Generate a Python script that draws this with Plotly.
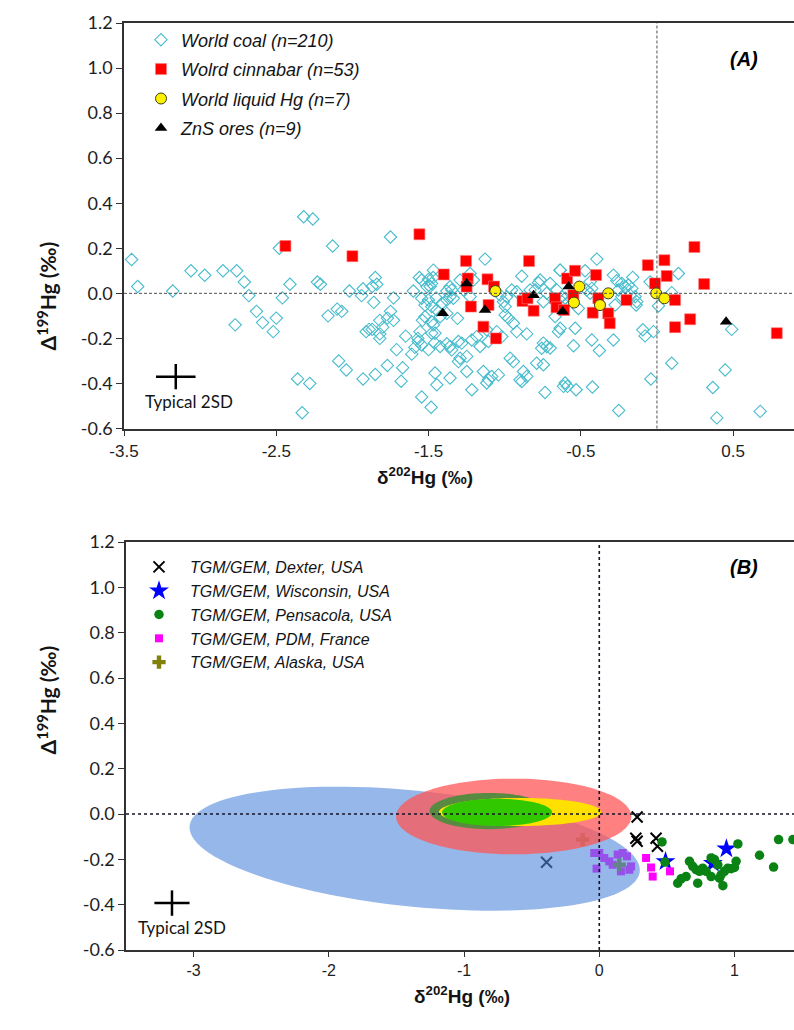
import numpy as np
import plotly.graph_objects as go

# ---------------- Panel A data ----------------
coal_x = [-3.45,-3.41,-3.18,-3.06,-2.97,-2.85,-2.76,-2.71,-2.68,-2.77,-2.63,-2.59,-2.50,-2.52,-2.46,-2.41,-2.48,-2.32,-2.26,-2.13,
          -2.23,-2.21,-2.16,-2.10,-2.07,-2.02,-1.94,-1.91,-1.89,-1.93,-1.87,-1.85,-1.84,-1.86,-1.82,-1.80,-1.77,-1.75,-1.73,-1.73,
          -1.75,-1.71,-1.65,-1.61,-1.59,-1.57,-1.60,-1.56,-1.77,-1.67,-1.68,-1.85,-1.93,-2.09,-2.04,-2.36,-2.28,-2.33,-1.82,-1.87,
          -1.82,-1.50,-1.47,-1.49,-1.45,-1.46,-1.38,-1.54,
          -1.545,-1.483,-1.567,-1.556,-1.545,-1.545,-1.468,-1.50,-1.48,-1.51,-1.545,-1.523,-1.479,-1.446,-1.501,-1.413,-1.38,-1.359,
          -1.337,-1.348,-1.359,-1.31,-1.293,-1.227,-1.205,-1.271,-1.227,-1.468,-1.479,-1.38,-1.348,-1.304,-1.424,-1.293,-1.249,-1.249,
          -1.359,-1.457,-1.446,-1.216,-1.129,-1.14,-1.107,-1.041,-1.118,-1.216,-1.183,-1.118,-1.107,-1.052,-1.019,-0.997,-1.008,-0.986,
          -1.03,-0.954,-0.997,-0.943,-0.921,-0.855,-0.888,-0.778,-0.833,-0.80,-0.702,-0.746,-0.964,-0.877,-0.899,-0.79,-0.746,-0.746,
          -0.702,-0.647,-0.636,-0.735,-0.614,-0.658,-0.625,-0.669,-1.162,-1.282,-1.304,-1.359,-1.457,-0.943,-0.855,-0.888,-0.724,-0.757,
          -0.767,-0.724,-0.975,-0.921,-1.085,-1.523,-1.424,-1.38,-1.479,
          -0.395,-0.472,-0.286,-0.159,-0.264,-0.231,-0.209,-0.187,-0.165,-0.253,-0.143,-0.137,-0.275,-0.439,-0.428,-0.461,-0.603,-0.592,
          -0.516,-0.636,-0.537,-0.548,-0.428,-0.378,-0.286,-0.093,-0.078,-0.023,-0.045,0.097,0.141,0.010,0.097,-0.040,0.448,0.367,
          0.393,0.491,-0.251,-0.603,-0.588,-0.531,-0.424,0.678,-0.636,-0.176,-0.132,-0.231,-0.625,-0.439]
coal_y = [0.15,0.03,0.01,0.10,0.08,0.10,0.10,0.05,-0.01,-0.14,-0.08,-0.13,-0.11,-0.17,-0.02,0.04,0.20,0.34,0.33,0.21,
          0.05,0.04,-0.10,-0.07,-0.08,0.01,-0.01,-0.17,-0.16,0.02,0.03,0.07,0.04,-0.04,-0.18,-0.15,-0.11,-0.08,-0.12,-0.02,
          0.25,-0.25,-0.19,-0.27,-0.24,-0.20,0.01,0.07,-0.32,-0.33,-0.39,-0.36,-0.38,-0.30,-0.34,-0.38,-0.40,-0.53,-0.12,-0.16,
          -0.20,-0.25,0.07,0.03,-0.02,-0.22,0.01,-0.12,
          -0.46,-0.506,-0.214,-0.17,-0.229,0.059,0.103,0.062,0.044,0.029,-0.022,-0.052,-0.059,-0.074,-0.03,-0.045,-0.03,-0.015,
          -0.022,0.015,0.029,-0.111,0.059,0.088,0.059,0.015,-0.015,-0.14,-0.177,-0.224,-0.251,-0.214,-0.236,-0.288,-0.28,-0.347,
          -0.376,-0.354,-0.406,-0.428,0.152,-0.347,-0.384,-0.362,-0.398,-0.207,-0.192,-0.162,-0.214,-0.17,-0.192,-0.059,-0.037,-0.015,
          -0.008,0.015,-0.096,-0.133,-0.17,-0.18,0.076,0.047,0.015,0.015,0.044,-0.037,-0.288,-0.347,-0.384,-0.31,-0.317,-0.221,
          -0.243,-0.17,0.103,-0.44,-0.413,0.015,-0.015,-0.103,-0.236,-0.221,-0.303,-0.236,-0.177,-0.303,-0.369,-0.391,-0.236,-0.244,
          0.059,0.0,-0.111,0.007,-0.369,-0.104,-0.104,-0.089,-0.126,
          0.152,0.10,0.081,0.071,0.056,0.044,0.029,0.037,0.022,0.015,-0.015,-0.052,-0.052,0.051,0.022,0.015,-0.022,-0.044,
          -0.067,-0.155,-0.155,-0.233,-0.207,-0.254,-0.207,-0.162,-0.189,-0.17,0.051,0.003,0.088,-0.056,-0.31,-0.38,-0.34,-0.418,
          -0.553,-0.16,-0.52,-0.398,-0.413,-0.428,-0.416,-0.524,0.103,-0.008,-0.037,-0.015,-0.037,0.0]

cinnabar_x = [-2.44,-2.00,-1.56,-1.40,-1.254,-1.243,-1.25,-1.113,-1.07,-1.222,-1.106,-1.14,-1.057,-0.84,-0.883,-0.85,-0.81,
              -0.67,-0.66,-0.61,-0.59,-0.538,-0.549,-0.40,-0.385,-0.422,-0.32,-0.31,-0.20,-0.06,0.049,0.064,-0.013,0.119,
              0.246,0.31,0.218,0.119,0.787]
cinnabar_y = [0.21,0.165,0.262,0.084,0.144,0.066,0.03,0.062,0.03,-0.059,-0.052,-0.148,-0.20,0.143,-0.034,-0.022,-0.077,
              -0.022,-0.062,-0.074,0.066,0.10,-0.008,0.081,-0.022,-0.086,-0.089,-0.133,-0.03,0.125,0.147,0.077,0.044,-0.03,
              0.206,0.041,-0.115,-0.15,-0.177]

liquid_x = [-0.51,-0.545,-0.32,-0.374,-0.005,0.049,-1.061]
liquid_y = [0.03,-0.041,0.0,-0.052,0.0,-0.022,0.01]

zns_x = [-1.25,-1.407,-1.129,-0.81,-0.62,-0.58,0.454]
zns_y = [0.044,-0.088,-0.074,-0.008,-0.081,0.03,-0.126]

a_xtick_vals = [-3.5,-2.5,-1.5,-0.5,0.5]
a_xtick_text = ["-3.5","-2.5","-1.5","-0.5","0.5"]
y_tick_vals = [-0.6,-0.4,-0.2,0.0,0.2,0.4,0.6,0.8,1.0,1.2]
y_tick_text = ["-0.6","-0.4","-0.2","0.0","0.2","0.4","0.6","0.8","1.0","1.2"]

# ---------------- Panel B data ----------------
dexter_x = [0.28,0.27,0.28,0.42,0.43,-0.39]
dexter_y = [-0.013,-0.107,-0.12,-0.107,-0.142,-0.213]

wisc_x = [0.94,0.49,0.84]
wisc_y = [-0.153,-0.21,-0.217]

pens_x = [0.464,1.025,1.326,1.432,1.185,1.289,0.667,0.691,0.716,0.741,0.765,0.790,0.827,0.852,0.877,0.901,0.926,0.951,
          0.975,1.0,1.012,0.827,0.889,0.914,0.580,0.605,0.642,0.728,0.486]
pens_y = [-0.123,-0.132,-0.113,-0.113,-0.182,-0.234,-0.209,-0.231,-0.246,-0.253,-0.239,-0.253,-0.194,-0.201,-0.224,-0.268,
          -0.253,-0.239,-0.241,-0.236,-0.209,-0.276,-0.283,-0.316,-0.305,-0.286,-0.276,-0.305,-0.212]

pdm_x = [0.346,0.383,0.395,0.523,-0.037,0.0,0.037,0.074,0.099,0.136,0.173,0.205,0.160,0.222,0.235,-0.02]
pdm_y = [-0.194,-0.236,-0.276,-0.253,-0.172,-0.172,-0.194,-0.209,-0.224,-0.179,-0.172,-0.187,-0.253,-0.246,-0.231,-0.241]

alaska_x = [-0.123,0.148]
alaska_y = [-0.113,-0.224]

b_xtick_vals = [-3,-2,-1,0,1]
b_xtick_text = ["-3","-2","-1","0","1"]

# ellipses: blue (coal), red (cinnabar), dark green, yellow, green
ell_cx = [-1.365,-0.633,-0.815,-0.585,-0.756]
ell_cy = [-0.153,-0.011,0.013,0.009,0.007]
ell_rx = [1.665,0.870,0.44,0.60,0.407]
ell_ry = [0.257,0.167,0.08,0.062,0.06]
ell_shear = [-0.0565,0.0,0.0,0.0,0.0]
ell_fill = ["rgba(80,135,220,0.6)","rgba(255,85,85,0.75)","rgb(88,138,66)","rgb(255,224,0)","rgb(50,200,0)"]

sd_x = [-3.16]; sd_ya = [-0.37]; sd_yb = [-0.393]
sd_ex = 0.13; sd_ey = 0.056

# ---------------- Figure ----------------
fig = go.Figure()
LA = dict(legend="legend")
LB = dict(legend="legend2")

fig.add_trace(go.Scatter(x=coal_x, y=coal_y, mode="markers", name="World coal (n=210)",
    marker=dict(symbol="diamond-open", size=9.5, color="rgb(70,188,205)", line=dict(width=1.1)),
    xaxis="x", yaxis="y", legendgroup="a1", **LA))
fig.add_trace(go.Scatter(x=cinnabar_x, y=cinnabar_y, mode="markers", name="Wolrd cinnabar (n=53)",
    marker=dict(symbol="square", size=11, color="rgb(255,0,0)", line=dict(width=0.6, color="rgb(255,120,120)")),
    xaxis="x", yaxis="y", legendgroup="a2", **LA))
fig.add_trace(go.Scatter(x=liquid_x, y=liquid_y, mode="markers", name="World liquid Hg (n=7)",
    marker=dict(symbol="circle", size=11, color="rgb(255,240,0)", line=dict(width=1, color="rgb(60,60,30)")),
    xaxis="x", yaxis="y", legendgroup="a3", **LA))
fig.add_trace(go.Scatter(x=zns_x, y=zns_y, mode="markers", name="ZnS ores (n=9)",
    marker=dict(symbol="triangle-up", size=11, color="black"),
    xaxis="x", yaxis="y", legendgroup="a4", **LA))
fig.add_trace(go.Scatter(x=sd_x, y=sd_ya, mode="markers", showlegend=False,
    marker=dict(size=1, color="black"),
    error_x=dict(type="constant", value=sd_ex, width=0, thickness=2.5, color="black"),
    error_y=dict(type="constant", value=sd_ey, width=0, thickness=2.5, color="black"),
    xaxis="x", yaxis="y"))

fig.add_trace(go.Scatter(x=dexter_x, y=dexter_y, mode="markers", name="TGM/GEM, Dexter, USA",
    marker=dict(symbol="x-thin-open", size=11, color="black", line=dict(width=2, color="black")),
    xaxis="x2", yaxis="y2", legendgroup="b1", **LB))
fig.add_trace(go.Scatter(x=wisc_x, y=wisc_y, mode="markers", name="TGM/GEM, Wisconsin, USA",
    marker=dict(symbol="star", size=15, color="rgb(0,0,255)"),
    xaxis="x2", yaxis="y2", legendgroup="b2", **LB))
fig.add_trace(go.Scatter(x=pens_x, y=pens_y, mode="markers", name="TGM/GEM, Pensacola, USA",
    marker=dict(symbol="circle", size=9.5, color="rgb(10,130,20)"),
    xaxis="x2", yaxis="y2", legendgroup="b3", **LB))
fig.add_trace(go.Scatter(x=pdm_x, y=pdm_y, mode="markers", name="TGM/GEM, PDM, France",
    marker=dict(symbol="square", size=8, color="rgb(255,0,255)"),
    xaxis="x2", yaxis="y2", legendgroup="b4", **LB))
fig.add_trace(go.Scatter(x=alaska_x, y=alaska_y, mode="markers", name="TGM/GEM, Alaska, USA",
    marker=dict(symbol="cross", size=11, color="rgb(128,128,10)"),
    xaxis="x2", yaxis="y2", legendgroup="b5", **LB))
fig.add_trace(go.Scatter(x=sd_x, y=sd_yb, mode="markers", showlegend=False,
    marker=dict(size=1, color="black"),
    error_x=dict(type="constant", value=sd_ex, width=0, thickness=2.5, color="black"),
    error_y=dict(type="constant", value=sd_ey, width=0, thickness=2.5, color="black"),
    xaxis="x2", yaxis="y2"))

shapes = []
t = np.linspace(0, 2*np.pi, 121)
for cx, cy, rx, ry, sh, fc in zip(ell_cx, ell_cy, ell_rx, ell_ry, ell_shear, ell_fill):
    ex = cx + rx*np.cos(t)
    ey = cy + ry*np.sin(t) + sh*rx*np.cos(t)
    path = "M " + " L ".join(f"{a:.4f},{b:.4f}" for a, b in zip(ex, ey)) + " Z"
    shapes.append(dict(type="path", path=path, xref="x2", yref="y2", fillcolor=fc,
                       line=dict(width=0), layer="above"))

# reference lines
shapes += [
    dict(type="line", xref="x domain", yref="y", x0=0, x1=1, y0=0, y1=0,
         line=dict(color="rgb(80,80,80)", width=1, dash="3px,2px"), layer="above"),
    dict(type="line", xref="x", yref="y domain", x0=0, x1=0, y0=0, y1=1,
         line=dict(color="rgb(80,80,80)", width=1, dash="3px,2px"), layer="above"),
    dict(type="line", xref="x2 domain", yref="y2", x0=0, x1=1, y0=0, y1=0,
         line=dict(color="rgb(20,20,40)", width=1.6, dash="dot"), layer="above"),
    dict(type="line", xref="x2", yref="y2 domain", x0=0, x1=0, y0=0, y1=1,
         line=dict(color="rgb(20,20,40)", width=1.6, dash="dot"), layer="above"),
]

axis_common = dict(showline=True, linecolor="rgb(50,50,50)", linewidth=1.5, ticks="outside",
                   ticklen=6, tickwidth=1.3, tickcolor="rgb(50,50,50)", showgrid=False, zeroline=False)
yfont = dict(family="Lato, Open Sans, sans-serif", size=18, color="rgb(30,30,30)")

H = 927.0
def py(p):
    return (950 - p) / H
def px(p):
    return (p - 124) / 670.0

fig.update_layout(
    width=794, height=1030, margin=dict(l=124, r=0, t=23, b=80),
    paper_bgcolor="white", plot_bgcolor="white",
    xaxis=dict(domain=[0, 1], range=[-3.5, 0.90], tickvals=a_xtick_vals, ticktext=a_xtick_text,
               mirror=True, anchor="y",
               tickfont=dict(family="Liberation Sans Narrow, Liberation Sans, sans-serif", size=17, color="rgb(30,30,30)"),
               **axis_common),
    yaxis=dict(domain=[py(428.5), 1], range=[-0.6, 1.2], tickvals=y_tick_vals, ticktext=y_tick_text,
               anchor="x", tickfont=yfont, **axis_common),
    xaxis2=dict(domain=[2/670, 1], range=[-3.5, 1.44], tickvals=b_xtick_vals, ticktext=b_xtick_text,
                mirror=True, anchor="y2", ticklen=5,
                tickfont=dict(family="Liberation Sans, Arial, sans-serif", size=16, color="rgb(30,30,30)"),
                **{k: v for k, v in axis_common.items() if k != "ticklen"}),
    yaxis2=dict(domain=[0, py(542)], range=[-0.6, 1.2], tickvals=y_tick_vals, ticktext=y_tick_text,
                anchor="x2", tickfont=yfont, **axis_common),
    shapes=shapes,
    showlegend=True,
    legend=dict(x=px(141), y=py(21.5), xanchor="left", yanchor="top", bgcolor="rgba(0,0,0,0)",
                traceorder="grouped", tracegroupgap=3, itemwidth=30,
                font=dict(family="Liberation Sans, Arial, sans-serif", size=18, style="italic", color="rgb(20,20,20)")),
    legend2=dict(x=px(128), y=py(550), xanchor="left", yanchor="top", bgcolor="rgba(0,0,0,0)",
                 traceorder="grouped", tracegroupgap=0, itemwidth=52,
                 font=dict(family="Liberation Sans, Arial, sans-serif", size=16, style="italic", color="rgb(20,20,20)")),
)

ann = []
tfont = dict(family="Lato, Open Sans, sans-serif", size=21, color="rgb(20,20,20)")
ann.append(dict(text="<b>Δ<sup>199</sup>Hg (‰)</b>", x=px(30), y=py(240), xref="paper", yref="paper",
                textangle=-90, showarrow=False, font=tfont))
ann.append(dict(text="<b>Δ<sup>199</sup>Hg (‰)</b>", x=px(30), y=py(757), xref="paper", yref="paper",
                textangle=-90, showarrow=False, font=tfont))
ann.append(dict(text="<b>δ<sup>202</sup>Hg (‰)</b>", x=px(425), y=py(476), xref="paper", yref="paper",
                showarrow=False, font=dict(family="Liberation Sans Narrow, Liberation Sans, sans-serif", size=19, color="rgb(20,20,20)")))
ann.append(dict(text="<b>δ<sup>202</sup>Hg (‰)</b>", x=px(462), y=py(1009), xref="paper", yref="paper",
                showarrow=False, font=dict(family="Liberation Sans Narrow, Liberation Sans, sans-serif", size=19, color="rgb(20,20,20)")))
ann.append(dict(text="<b><i>(A)</i></b>", x=px(760), y=py(46), xref="paper", yref="paper",
                showarrow=False, font=dict(family="Liberation Sans, Arial, sans-serif", size=20, color="black")))
ann.append(dict(text="<b><i>(B)</i></b>", x=px(760), y=py(567), xref="paper", yref="paper",
                showarrow=False, font=dict(family="Liberation Sans, Arial, sans-serif", size=20, color="black")))
ann.append(dict(text="Typical 2SD", x=-3.07, y=-0.48, xref="x", yref="y", showarrow=False,
                font=dict(family="Lato, Open Sans, sans-serif", size=17, color="rgb(20,20,20)")))
ann.append(dict(text="Typical 2SD", x=-3.085, y=-0.50, xref="x2", yref="y2", showarrow=False,
                font=dict(family="Lato, Open Sans, sans-serif", size=17, color="rgb(20,20,20)")))
fig.update_layout(annotations=ann)

fig.write_html("out.html")
